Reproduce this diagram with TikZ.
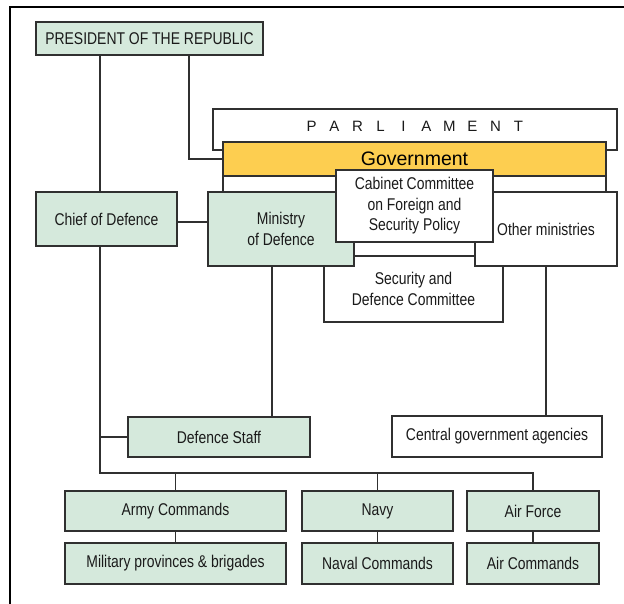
\documentclass[tikz,border=0pt]{standalone}
\usepackage{fontspec}
\setmainfont{Liberation Sans}
\newfontfamily\cond[FakeStretch=0.82]{Liberation Sans}
\definecolor{boxgreen}{HTML}{D5E9DC}
\definecolor{govyellow}{HTML}{FDCE50}
\definecolor{bord}{HTML}{303030}
\definecolor{txt}{HTML}{1A1A1A}
\newcommand{\plet}[1]{\makebox[23pt]{#1}}
\begin{document}
\begin{tikzpicture}[x=1pt,y=-1pt,
  box/.style={draw=bord, line width=1.3pt, inner sep=0pt, align=center,
    font=\cond\fontsize{17}{20.5}\selectfont, text=txt},
  gbox/.style={box, fill=boxgreen},
  wbox/.style={box, fill=white},
  conn/.style={draw=bord, line width=1.6pt}]
\useasboundingbox (0,0) rectangle (624,603);
\fill[white] (0,0) rectangle (624,603);
\draw[line width=2.4pt, black] (10,610) -- (10,7) -- (626,7);

% top
\node[gbox, minimum width=227, minimum height=33] (pres) at (149.5,38.5) {PRESIDENT OF THE REPUBLIC};
\node[wbox, minimum width=404, minimum height=41] (parl) at (415,129.5) {};
\node[font=\fontsize{15}{16}\selectfont, text=txt, inner sep=0pt] (parltext) at (415,126)
  {\plet{P}\plet{A}\plet{R}\plet{L}\plet{I}\plet{A}\plet{M}\plet{E}\plet{N}\plet{T}};
\node[wbox, minimum width=383, minimum height=98] (gwhite) at (414.5,191) {};
\node[box, fill=govyellow, minimum width=383, minimum height=34,
  font=\fontsize{19.5}{22}\selectfont, text=black] (gov) at (414.5,159) {Government};

% middle band
\node[wbox, minimum width=179, minimum height=66] (sec) at (413.5,289) {Security and\\Defence Committee};
\node[gbox, minimum width=146, minimum height=74] (mod) at (281,229) {Ministry\\of Defence};
\node[wbox, minimum width=142, minimum height=74] (other) at (546,229) {Other ministries};
\node[wbox, minimum width=157, minimum height=72] (cab) at (414.5,206) {Cabinet Committee\\on Foreign and\\Security Policy};
\node[gbox, minimum width=141, minimum height=54] (chief) at (106.5,219) {Chief of Defence};

% lower
\node[gbox, minimum width=182, minimum height=40] (staff) at (219,437) {Defence Staff};
\node[wbox, minimum width=210, minimum height=41] (central) at (497,436.5) {Central government agencies};
\node[gbox, minimum width=221, minimum height=40] (army) at (175.5,511) {Army Commands};
\node[gbox, minimum width=221, minimum height=41] (mil) at (175.5,563.5) {Military provinces \& brigades};
\node[gbox, minimum width=151, minimum height=40] (navy) at (377.5,511) {Navy};
\node[gbox, minimum width=151, minimum height=41] (naval) at (377.5,563.5) {Naval Commands};
\node[gbox, minimum width=132, minimum height=40] (air) at (533,511) {Air Force};
\node[gbox, minimum width=132, minimum height=41] (aircmd) at (533,563.5) {Air Commands};

% helper coordinates
\coordinate (cx) at (100,0);
\coordinate (pg) at (189,160);
\coordinate (cm) at (0,222);
\coordinate (mx) at (272,0);
\coordinate (ox) at (546,0);
\coordinate (busy) at (0,473);

% connectors
\draw[conn] (pres.south -| cx) -- (chief.north -| cx);
\draw[conn] (pres.south -| pg) |- (gov.west);
\draw[conn] (chief.east |- cm) -- (mod.west |- cm);
\draw[conn] (chief.south -| cx) |- (air.north |- busy) -- (air.north);
\draw[conn] (staff.west -| cx) -- (staff.west);
\draw[conn] (army.north |- busy) -- (army.north);
\draw[conn] (navy.north |- busy) -- (navy.north);
\draw[conn] (mod.south -| mx) -- (staff.north -| mx);
\draw[conn] (other.south -| ox) -- (central.north -| ox);
\draw[conn] (army.south) -- (mil.north);
\draw[conn] (navy.south) -- (naval.north);
\draw[conn] (air.south) -- (aircmd.north);
\end{tikzpicture}
\end{document}
